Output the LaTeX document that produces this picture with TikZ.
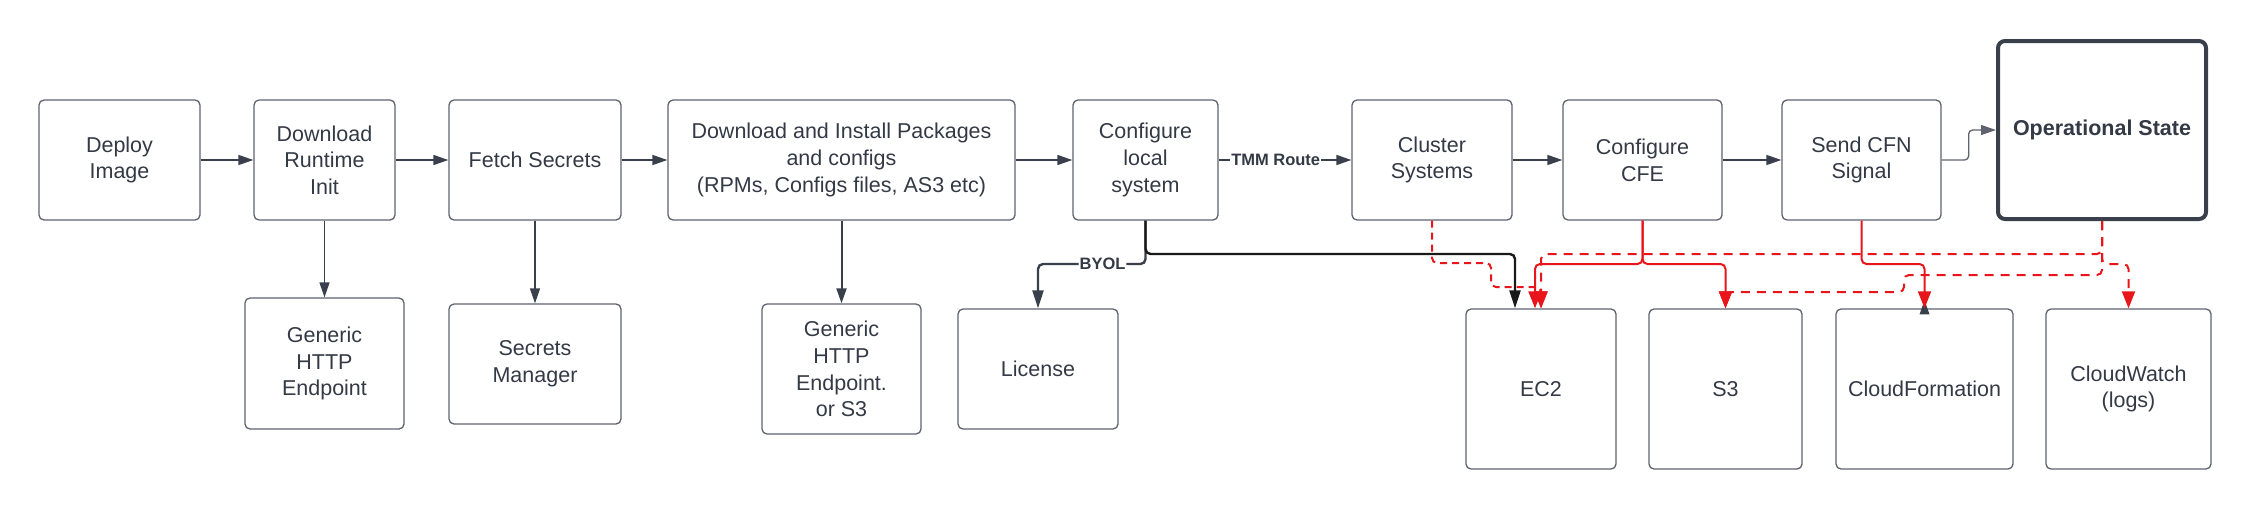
\documentclass[tikz,border=0pt]{standalone}
\usepackage{fontspec}
\setmainfont{Liberation Sans}
\usepackage{tikz}
\usetikzlibrary{arrows.meta}
\definecolor{ink}{HTML}{333A45}
\definecolor{frame}{HTML}{5E636E}
\definecolor{wire}{HTML}{3A404B}
\definecolor{alert}{HTML}{E8161B}

\begin{document}
\begin{tikzpicture}
			[x=1pt,y=-1pt,every node/.style={text=ink,align=center,font=\fontsize{21.5}{26.7}\selectfont},
			box/.style={draw=frame,line width=1.3pt,rounded corners=5pt,minimum height=120pt},
			edge/.style={wire,line width=1.5pt,-{Triangle[length=15pt,width=10pt]}},
			link/.style={line width=2.4pt,rounded corners=5pt,-{Triangle[length=18pt,width=11pt]}},
			redge/.style={alert,line width=2pt,rounded corners=5pt,-{Triangle[length=17pt,width=13pt]}},
			rdash/.style={redge,dash pattern=on 9pt off 7pt},
			lbl/.style={fill=white,inner sep=1pt,font=\bfseries\fontsize{16.5}{18}\selectfont}]
			\useasboundingbox (0,0) rectangle (2252,509);
			\node[box,minimum width=161] (deploy) at (119.5,160) {Deploy\\Image};
			\node[box,minimum width=141] (init) at (324.5,160) {Download\\Runtime\\Init};
			\node[box,minimum width=172] (fetch) at (535,160) {Fetch Secrets};
			\node[box,minimum width=347] (pkgs) at (841.5,160) {Download and Install Packages\\and configs\\(RPMs, Configs files, AS3 etc)};
			\node[box,minimum width=145] (local) at (1145.5,160) {Configure\\local\\system};
			\node[box,minimum width=160] (cluster) at (1432,160) {Cluster\\Systems};
			\node[box,minimum width=159] (cfe) at (1642.5,160) {Configure\\CFE};
			\node[box,minimum width=159] (cfn) at (1861.5,160) {Send CFN\\Signal};
			\node[box,draw=wire,line width=4pt,rounded corners=7pt,minimum width=208,minimum height=178,font=\bfseries\fontsize{21.5}{26.7}\selectfont] (ops) at (2102,130) {Operational State};
			
			\node[box,minimum width=159,minimum height=131] (http) at (324.5,363.5) {Generic\\HTTP\\Endpoint};
			\node[box,minimum width=172] (sm) at (535,364) {Secrets\\Manager};
			\node[box,minimum width=159,minimum height=130] (http2) at (841.5,369) {Generic\\HTTP\\Endpoint.\\or S3};
			\node[box,minimum width=160] (lic) at (1038,369) {License};
			\node[box,minimum width=150,minimum height=160] (ec2) at (1541,389) {EC2};
			\node[box,minimum width=153,minimum height=160] (s3) at (1725.5,389) {S3};
			\node[box,minimum width=177,minimum height=160] (cf) at (1924.5,389) {CloudFormation};
			\node[box,minimum width=165,minimum height=160] (cw) at (2128.5,389) {CloudWatch\\(logs)};
			
			\draw[edge] (deploy) -- (init);
			\draw[edge] (init) -- (fetch);
			\draw[edge] (fetch) -- (pkgs);
			\draw[edge] (pkgs) -- (local);
			\draw[edge] (local) -- node[lbl,pos=0.43] {TMM Route} (cluster);
			\draw[edge] (cluster) -- (cfe);
			\draw[edge] (cfe) -- (cfn);
			\draw[edge,frame,line width=1.3pt,rounded corners=4pt] (cfn.east) -- ++(27,0) |- (ops);
			
			\draw[edge] (init) -- (http);
			\draw[edge] (fetch) -- (sm);
			\draw[edge,line width=2pt] (pkgs) -- (http2);
			\draw[link,wire] (local) -- ++(0,104) -| node[lbl,pos=0.2] {BYOL} (lic);
			\draw[link,black!90] (local) -- ++(0,94) -| ([xshift=-26]ec2.north);
			
			\fill[wire] (cf.north) ++(-5,6) -- ++(10,0) -- ++(-5,-14) -- cycle;
			\draw[rdash,dash pattern=on 7pt off 5pt] (cluster) -- ++(0,103) -| ++(59,24) -| (ec2);
			\draw[redge] (cfe) -- ++(0,104) -| ([xshift=-6]ec2.north);
			\draw[redge] (cfe) -- ++(0,104) -| (s3);
			\draw[redge] (cfn) -- ++(0,104) -| (cf);
			\draw[rdash] (ops) -- ++(0,124) -| (ec2);
			\draw[rdash] (ops) -- ++(0,134) -| (cw);
			\draw[rdash] (ops) -- ++(0,145) -| ++(-198,17) -| (s3);
			\end{tikzpicture}
\end{document}
